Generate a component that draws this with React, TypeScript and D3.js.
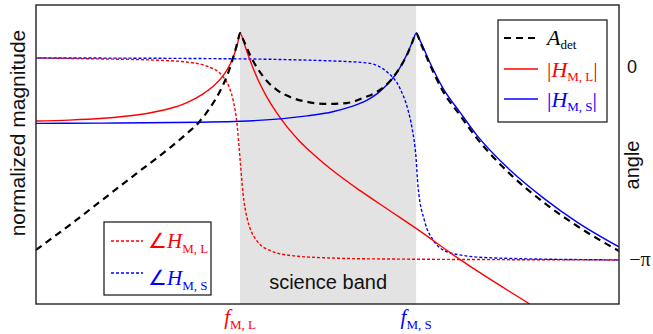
import React from "react";
import * as d3 from "d3";

const W = 653;
const H = 334;
const margin = { left: 36, right: 34, top: 5, bottom: 30 };

// x: position along the (logarithmic) frequency axis, 0–100 % of the span
// magnitudes: normalized, 0–100 % of the axis height
// phases: in units of π radians

const aDetX = [0, 5.7, 11.5, 17.2, 22.8, 25.7, 28.0, 29.7, 31.4, 32.9, 34.0, 34.6, 35.0, 35.5, 36.2, 36.7, 38.1, 39.6, 41.3, 43.6, 46.5, 49.9, 53.3, 56.1, 58.5, 60.7, 62.4, 63.8, 64.5, 65.2, 65.9, 67.6, 69.8, 72.7, 75.6, 81.3, 87.0, 92.8, 100];
const aDetY = [18.1, 26.3, 35.0, 43.6, 52.0, 56.7, 60.9, 65.2, 70.6, 77.0, 83.6, 87.8, 90.6, 88.6, 85.5, 83.3, 78.5, 74.6, 71.6, 69.2, 67.6, 66.9, 67.2, 68.9, 71.0, 74.5, 79.0, 84.0, 87.3, 90.6, 87.6, 79.9, 71.2, 63.2, 55.5, 43.5, 34.1, 26.1, 17.7];

const hmlX = [0, 5.7, 11.5, 17.2, 22.8, 25.7, 28.6, 30.4, 32.1, 33.3, 34.1, 34.6, 35.0, 35.9, 36.7, 38.1, 39.6, 41.3, 43.2, 45.3, 47.0, 50.4, 55.6, 60.7, 65.2, 72.7, 84.7];
const hmlY = [61.2, 61.5, 62.1, 63.2, 65.3, 67.2, 70.2, 72.8, 76.4, 80.2, 84.0, 87.3, 90.6, 86.0, 81.6, 74.9, 69.2, 63.9, 58.9, 54.3, 51.1, 45.4, 37.9, 31.2, 25.3, 14.9, 0];

const hmsX = [0, 11.0, 28.1, 35.0, 42.4, 46.5, 50.9, 53.9, 56.8, 58.7, 60.2, 61.5, 62.4, 63.2, 63.8, 64.7, 65.2, 65.9, 67.6, 69.8, 72.7, 75.6, 81.3, 87.0, 92.8, 100];
const hmsY = [60.4, 60.5, 60.8, 61.1, 62.0, 62.9, 64.3, 65.9, 68.2, 70.6, 73.3, 76.3, 79.0, 81.8, 84.3, 88.3, 90.6, 88.0, 80.6, 72.2, 64.2, 56.5, 44.8, 35.5, 27.4, 19.1];

const phMLX = [0, 11.0, 19.6, 25.7, 29.7, 32.1, 33.3, 33.8, 34.5, 35.0, 35.5, 36.2, 36.7, 37.9, 40.3, 44.3, 50.4, 59.0, 100];
const phMLY = [0, -0.005, -0.01, -0.02, -0.045, -0.094, -0.158, -0.208, -0.332, -0.5, -0.668, -0.792, -0.842, -0.906, -0.955, -0.98, -0.99, -0.995, -1];

const phMSX = [0, 28.1, 45.3, 50.9, 56.8, 60.2, 62.4, 63.8, 64.5, 65.2, 65.5, 66.7, 68.1, 69.8, 72.7, 78.4, 100];
const phMSY = [0, -0.003, -0.01, -0.015, -0.025, -0.069, -0.149, -0.257, -0.347, -0.5, -0.629, -0.812, -0.901, -0.95, -0.975, -0.99, -1];

const bandStart = 35.0; // f_M,L
const bandEnd = 65.2; // f_M,S
const phaseTicks = [0, -1];
const phaseTickLabels = ["0", "\u2212\u03c0"];

const SANS = "'Liberation Sans', Arial, sans-serif";
const SERIF = "'Liberation Serif', 'Times New Roman', serif";
const RED = "#ff0000";
const BLUE = "#0000ff";

export default function App() {
  const x = d3.scaleLinear().domain([0, 100]).range([margin.left, W - margin.right]);
  const yMag = d3.scaleLinear().domain([0, 100]).range([H - margin.bottom, margin.top]);
  const yPh = d3.scaleLinear().domain([-1.218, 0.262]).range([H - margin.bottom, margin.top]);

  const mk = (xs: number[], ys: number[], ys2: (v: number) => number) =>
    d3
      .line<number>()
      .x((_, i) => x(xs[i]))
      .y((d) => ys2(d))
      .curve(d3.curveMonotoneX)(ys) || "";

  const pL = margin.left;
  const pT = margin.top;
  const pR = W - margin.right;
  const pB = H - margin.bottom;

  return (
    <svg
      width={W}
      height={H}
      style={{ position: "absolute", left: 0, top: 0, background: "#fff" }}
    >
      <defs>
        <clipPath id="plot">
          <rect x={pL} y={pT} width={pR - pL} height={pB - pT} />
        </clipPath>
      </defs>
      <rect x={0} y={0} width={W} height={H} fill="#fff" />
      <rect x={x(bandStart)} y={pT} width={x(bandEnd) - x(bandStart)} height={pB - pT} fill="#e3e3e3" />
      <g clipPath="url(#plot)" fill="none">
        <path d={mk(phMLX, phMLY, yPh)} stroke={RED} strokeWidth={1.4} strokeDasharray="3,2" />
        <path d={mk(phMSX, phMSY, yPh)} stroke={BLUE} strokeWidth={1.4} strokeDasharray="3,2" strokeDashoffset={2.5} />
        <path d={mk(hmlX, hmlY, yMag)} stroke={RED} strokeWidth={1.4} />
        <path d={mk(hmsX, hmsY, yMag)} stroke={BLUE} strokeWidth={1.4} />
        <path d={mk(aDetX, aDetY, yMag)} stroke="#000" strokeWidth={2.2} strokeDasharray="7,5" />
      </g>
      {/* science band label */}
      <text x={(x(bandStart) + x(bandEnd)) / 2} y={289} textAnchor="middle" fontFamily={SANS} fontSize={20} fill="#111">
        science band
      </text>
      {/* top-right legend */}
      <rect x={498} y={20} width={109} height={102} fill="#fff" stroke="#111" strokeWidth={1.2} />
      <line x1={504} x2={538} y1={38} y2={38} stroke="#000" strokeWidth={2.2} strokeDasharray="7,5" />
      <text x={547} y={45} fontFamily={SERIF} fontSize={22} fill="#000">
        <tspan fontStyle="italic">A</tspan>
        <tspan fontSize={13} dy={4}>det</tspan>
      </text>
      <line x1={504} x2={538} y1={69} y2={69} stroke={RED} strokeWidth={1.4} />
      <text x={547} y={77} fontFamily={SERIF} fontSize={22} fill={RED}>
        <tspan>|</tspan>
        <tspan fontStyle="italic">H</tspan>
        <tspan fontSize={13} dy={4}>M, L</tspan>
        <tspan dy={-4}>|</tspan>
      </text>
      <line x1={504} x2={538} y1={99} y2={99} stroke={BLUE} strokeWidth={1.4} />
      <text x={547} y={107} fontFamily={SERIF} fontSize={22} fill={BLUE}>
        <tspan>|</tspan>
        <tspan fontStyle="italic">H</tspan>
        <tspan fontSize={13} dy={4}>M, S</tspan>
        <tspan dy={-4}>|</tspan>
      </text>
      {/* bottom-left legend */}
      <rect x={104} y={222} width={107} height={73} fill="#fff" stroke="#111" strokeWidth={1.2} />
      <line x1={111} x2={143} y1={241} y2={241} stroke={RED} strokeWidth={1.4} strokeDasharray="3,2" />
      <text x={148} y={248} fontFamily={SERIF} fontSize={21} fill={RED}>
        <tspan>{"\u2220"}</tspan>
        <tspan fontStyle="italic">H</tspan>
        <tspan fontSize={13} dy={5}>M, L</tspan>
      </text>
      <line x1={111} x2={143} y1={273} y2={273} stroke={BLUE} strokeWidth={1.4} strokeDasharray="3,2" />
      <text x={148} y={285} fontFamily={SERIF} fontSize={21} fill={BLUE}>
        <tspan>{"\u2220"}</tspan>
        <tspan fontStyle="italic">H</tspan>
        <tspan fontSize={13} dy={5}>M, S</tspan>
      </text>
      {/* frame */}
      <rect x={pL} y={pT} width={pR - pL} height={pB - pT} fill="none" stroke="#222" strokeWidth={1.4} />
      {/* bottom labels */}
      <text x={x(bandStart)} y={324} textAnchor="middle" fontFamily={SERIF} fontSize={21} fill={RED}>
        <tspan fontStyle="italic">f</tspan>
        <tspan fontSize={13} dy={5}>M, L</tspan>
      </text>
      <text x={x(bandEnd)} y={324} textAnchor="middle" fontFamily={SERIF} fontSize={21} fill={BLUE}>
        <tspan fontStyle="italic">f</tspan>
        <tspan fontSize={13} dy={5}>M, S</tspan>
      </text>
      {/* right axis labels */}
      {phaseTicks.map((t, i) => (
        <text
          key={t}
          x={i === 0 ? 632 : 640}
          y={yPh(t) + (i === 0 ? 15 : 6)}
          textAnchor="middle"
          fontFamily={i === 0 ? SANS : SERIF}
          fontSize={i === 0 ? 18 : 20}
          fill="#111"
        >
          {phaseTickLabels[i]}
        </text>
      ))}
      <text
        transform={`translate(639,165) rotate(-90)`}
        textAnchor="middle"
        fontFamily={SANS}
        fontSize={20}
        fill="#111"
      >
        angle
      </text>
      <text
        transform={`translate(25,133) rotate(-90)`}
        textAnchor="middle"
        fontFamily={SANS}
        fontSize={21}
        fill="#111"
      >
        normalized magnitude
      </text>
    </svg>
  );
}
